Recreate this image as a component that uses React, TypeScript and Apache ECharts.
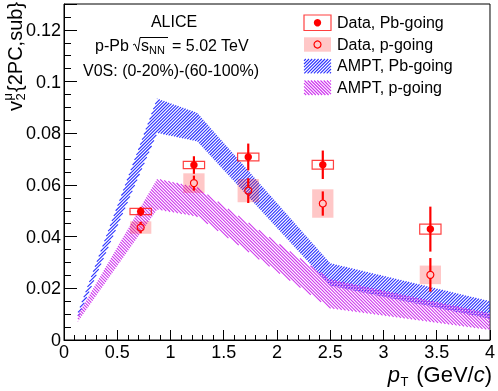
import React, { useEffect, useRef } from 'react';
import * as echarts from 'echarts';

// ---- data ----
const ptPoints = [0.72, 1.22, 1.73, 2.43, 3.44];
const pbGoingV2 = [0.0497, 0.0677, 0.0708, 0.0678, 0.0429];
const pbGoingStat = [0.0018, 0.0034, 0.0052, 0.0055, 0.0087];
const pbGoingSys = [0.0012, 0.0014, 0.0015, 0.0017, 0.0019];
const pGoingV2 = [0.0435, 0.0607, 0.0578, 0.0528, 0.0252];
const pGoingStat = [0.0022, 0.0029, 0.0048, 0.0047, 0.0065];
const pGoingSys = [0.0024, 0.0038, 0.0045, 0.0055, 0.0036];
const sysHalfWidth = [0.1, 0.1, 0.1, 0.1, 0.1];

const amptPt = [0.13, 0.875, 1.25, 2.5, 4.0];
const amptPbLow = [0.0085, 0.0801, 0.0769, 0.021, 0.0082];
const amptPbHigh = [0.0105, 0.0934, 0.0879, 0.0297, 0.015];
const amptPLow = [0.0071, 0.0505, 0.0478, 0.0123, 0.0039];
const amptPHigh = [0.0097, 0.0624, 0.059, 0.0235, 0.0103];

const xTicks = [0, 0.5, 1, 1.5, 2, 2.5, 3, 3.5, 4];
const yTickLabels = ['0', '0.02', '0.04', '0.06', '0.08', '0.1', '0.12'];

const FONT = 'Liberation Sans, Arial, Helvetica, sans-serif';
const RED = '#ff0000';
const PINK_BOX = 'rgba(255,0,0,0.22)';
const BLUE_HATCH = '#2a30ff';
const PINK_HATCH = '#cf36ee';
const HATCH_STEP = 3.2;
const HATCH_WIDTH = 1.1;

// Hatch line segments clipped to a (possibly non-convex) polygon, in pixels.
function hatchPolygon(pts: number[][], forward: boolean, step: number, color: string) {
  const f = (p: number[]) => (forward ? p[0] + p[1] : p[0] - p[1]);
  const vals = pts.map(f);
  const cMin = Math.ceil(Math.min(...vals) / step) * step;
  const cMax = Math.max(...vals);
  const out: any[] = [];
  for (let c = cMin; c <= cMax; c += step) {
    const xs: number[] = [];
    for (let k = 0; k < pts.length; k++) {
      const p = pts[k], q = pts[(k + 1) % pts.length];
      const fp = f(p) - c, fq = f(q) - c;
      if ((fp < 0 && fq >= 0) || (fp >= 0 && fq < 0)) {
        const t = fp / (fp - fq);
        xs.push(p[0] + t * (q[0] - p[0]));
      }
    }
    xs.sort((a, b) => a - b);
    for (let k = 0; k + 1 < xs.length; k += 2) {
      const xa = xs[k], xb = xs[k + 1];
      const ya = forward ? c - xa : xa - c;
      const yb = forward ? c - xb : xb - c;
      out.push({ type: 'line', silent: true, shape: { x1: xa, y1: ya, x2: xb, y2: yb }, style: { stroke: color, lineWidth: HATCH_WIDTH } });
    }
  }
  return out;
}

function rectPts(x: number, y: number, w: number, h: number) {
  return [[x, y], [x + w, y], [x + w, y + h], [x, y + h]];
}

export default function App() {
  const ref = useRef<HTMLDivElement>(null);
  useEffect(() => {
    if (!ref.current) return;
    const chart = echarts.init(ref.current, null, { renderer: 'svg' });

    const bandSeries = (low: number[], high: number[], forward: boolean, color: string) => ({
      type: 'custom',
      silent: true,
      clip: true,
      z: 1,
      data: amptPt.map((x, i) => [x, low[i], high[i]]),
      renderItem: (params: any, api: any) => {
        if (params.dataIndex !== 0) return;
        const top = amptPt.map((x, i) => api.coord([x, high[i]]));
        const bot = amptPt.map((x, i) => api.coord([x, low[i]])).reverse();
        return { type: 'group', children: hatchPolygon([...top, ...bot], forward, HATCH_STEP, color) };
      },
    });

    const boxSeries = (vals: number[], sys: number[], filled: boolean) => ({
      type: 'custom',
      silent: true,
      z: 2,
      data: ptPoints.map((x, i) => [x, vals[i], sys[i], sysHalfWidth[i]]),
      renderItem: (params: any, api: any) => {
        const x = api.value(0), v = api.value(1), s = api.value(2), w = api.value(3);
        const p1 = api.coord([x - w, v + s]);
        const p2 = api.coord([x + w, v - s]);
        return {
          type: 'rect',
          shape: { x: p1[0], y: p1[1], width: p2[0] - p1[0], height: p2[1] - p1[1] },
          style: filled
            ? { fill: PINK_BOX, stroke: null }
            : { fill: null, stroke: 'rgba(255,0,0,0.75)', lineWidth: 1.2 },
        };
      },
    });

    const errSeries = (vals: number[], stat: number[], gap: number) => ({
      type: 'custom',
      silent: true,
      z: 3,
      data: ptPoints.map((x, i) => [x, vals[i], stat[i]]),
      renderItem: (params: any, api: any) => {
        const x = api.value(0), v = api.value(1), e = api.value(2);
        const top = api.coord([x, v + e]);
        const mid = api.coord([x, v]);
        const bot = api.coord([x, v - e]);
        const st = { stroke: RED, lineWidth: 2.2 };
        return {
          type: 'group',
          children: [
            { type: 'line', shape: { x1: top[0], y1: top[1], x2: mid[0], y2: mid[1] - gap }, style: st },
            { type: 'line', shape: { x1: bot[0], y1: bot[1], x2: mid[0], y2: mid[1] + gap }, style: st },
          ],
        };
      },
    });

    const option: any = {
      animation: false,
      textStyle: { fontFamily: FONT },
      grid: { left: 64, right: 6, top: 4, bottom: 51, show: true, borderColor: '#000', borderWidth: 1, backgroundColor: 'transparent' },
      xAxis: {
        type: 'value',
        min: xTicks[0],
        max: xTicks[xTicks.length - 1],
        interval: 0.5,
        axisLine: { lineStyle: { color: '#000', width: 1 } },
        axisTick: { inside: true, length: 10, lineStyle: { color: '#000' } },
        minorTick: { show: true, splitNumber: 5, length: 5, lineStyle: { color: '#000' } },
        splitLine: { show: false },
        axisLabel: { color: '#000', fontSize: 18, fontFamily: FONT, margin: 3, formatter: (v: number) => String(v) },
      },
      yAxis: [
        {
          type: 'value',
          min: 0,
          max: 0.13,
          interval: 0.02,
          axisLine: { lineStyle: { color: '#000', width: 1 } },
          axisTick: { inside: true, length: 13, lineStyle: { color: '#000' } },
          splitLine: { show: false },
          axisLabel: {
            color: '#000', fontSize: 18, fontFamily: FONT, margin: 3,
            formatter: (v: number) => {
              const k = Math.round(v / 0.02);
              if (Math.abs(v - k * 0.02) > 1e-9) return '';
              return yTickLabels[k] ?? '';
            },
          },
        },
        {
          type: 'value',
          min: 0,
          max: 0.13,
          interval: 0.005,
          position: 'left',
          axisLine: { show: false },
          axisTick: { inside: true, length: 7, lineStyle: { color: '#000' } },
          axisLabel: { show: false },
          splitLine: { show: false },
        },
      ],
      series: [
        bandSeries(amptPbLow, amptPbHigh, true, BLUE_HATCH),
        bandSeries(amptPLow, amptPHigh, false, PINK_HATCH),
        boxSeries(pGoingV2, pGoingSys, true),
        boxSeries(pbGoingV2, pbGoingSys, false),
        errSeries(pbGoingV2, pbGoingStat, 0),
        errSeries(pGoingV2, pGoingStat, 3.6),
        {
          type: 'scatter',
          z: 4,
          silent: true,
          symbol: 'circle',
          symbolSize: 7.5,
          itemStyle: { color: RED, opacity: 1 },
          data: ptPoints.map((x, i) => [x, pbGoingV2[i]]),
        },
        {
          type: 'scatter',
          z: 4,
          silent: true,
          symbol: 'circle',
          symbolSize: 7,
          itemStyle: { color: 'rgba(0,0,0,0)', borderColor: RED, borderWidth: 1.2, opacity: 1 },
          data: ptPoints.map((x, i) => [x, pGoingV2[i]]),
        },
      ],
      graphic: [
        // legend
        { type: 'rect', shape: { x: 304, y: 15, width: 27, height: 15.5 }, style: { fill: null, stroke: 'rgba(255,0,0,0.75)', lineWidth: 1.2 } },
        { type: 'circle', shape: { cx: 317.5, cy: 22.7, r: 3.7 }, style: { fill: RED } },
        { type: 'rect', shape: { x: 304, y: 37.3, width: 27, height: 14.4 }, style: { fill: PINK_BOX } },
        { type: 'circle', shape: { cx: 317.5, cy: 44.5, r: 3.5 }, style: { fill: null, stroke: RED, lineWidth: 1.2 } },
        { type: 'group', children: hatchPolygon(rectPts(304, 59, 27, 14.3), true, HATCH_STEP, BLUE_HATCH) },
        { type: 'group', children: hatchPolygon(rectPts(304, 80.5, 27, 14.5), false, HATCH_STEP, PINK_HATCH) },
        { type: 'text', x: 337, y: 22.7, style: { text: 'Data, Pb-going', font: `16px ${FONT}`, fill: '#000', textVerticalAlign: 'middle' } },
        { type: 'text', x: 337, y: 44.3, style: { text: 'Data, p-going', font: `16px ${FONT}`, fill: '#000', textVerticalAlign: 'middle' } },
        { type: 'text', x: 337, y: 65.7, style: { text: 'AMPT, Pb-going', font: `16px ${FONT}`, fill: '#000', textVerticalAlign: 'middle' } },
        { type: 'text', x: 337, y: 87, style: { text: 'AMPT, p-going', font: `16px ${FONT}`, fill: '#000', textVerticalAlign: 'middle' } },
        // annotations
        { type: 'text', x: 174, y: 21.7, style: { text: 'ALICE', font: `16px ${FONT}`, fill: '#000', textAlign: 'center', textVerticalAlign: 'middle' } },
        { type: 'text', x: 95, y: 45, style: { text: 'p-Pb', font: `16px ${FONT}`, fill: '#000', textVerticalAlign: 'middle' } },
        { type: 'polyline', shape: { points: [[133, 45], [134.8, 44], [138, 51], [140, 37.5], [168, 37.5]] }, style: { stroke: '#000', lineWidth: 1, fill: null } },
        { type: 'text', x: 141, y: 45, style: { text: 's', font: `16px ${FONT}`, fill: '#000', textVerticalAlign: 'middle' } },
        { type: 'text', x: 149, y: 50, style: { text: 'NN', font: `11px ${FONT}`, fill: '#000', textVerticalAlign: 'middle' } },
        { type: 'text', x: 172, y: 45, style: { text: '= 5.02 TeV', font: `16px ${FONT}`, fill: '#000', textVerticalAlign: 'middle' } },
        { type: 'text', x: 83, y: 70, style: { text: 'V0S: (0-20%)-(60-100%)', font: `16px ${FONT}`, fill: '#000', textVerticalAlign: 'middle' } },
        // y-axis title (rotated)
        {
          type: 'group', x: 15, y: 111, rotation: Math.PI / 2,
          children: [
            { type: 'text', x: 0, y: 0, style: { text: 'v', font: `20px ${FONT}`, fill: '#000', textVerticalAlign: 'middle' } },
            { type: 'text', x: 10.5, y: 5.5, style: { text: '2', font: `13px ${FONT}`, fill: '#000', textVerticalAlign: 'middle' } },
            { type: 'text', x: 10.5, y: -7.5, style: { text: 'μ', font: `13px ${FONT}`, fill: '#000', textVerticalAlign: 'middle' } },
            { type: 'text', x: 19, y: 0, style: { text: '{2PC,sub}', font: `20px ${FONT}`, fill: '#000', textVerticalAlign: 'middle' } },
          ],
        },
        // x-axis title
        { type: 'text', x: 400, y: 374, style: { text: 'p', font: `italic 22px ${FONT}`, fill: '#000', textAlign: 'right', textVerticalAlign: 'middle' } },
        { type: 'text', x: 400.5, y: 381, style: { text: 'T', font: `13px ${FONT}`, fill: '#000', textVerticalAlign: 'middle' } },
        {
          type: 'text', x: 492, y: 374,
          style: {
            text: '(GeV/{i|c})', font: `22px ${FONT}`, fill: '#000', textAlign: 'right', textVerticalAlign: 'middle',
            rich: { i: { fontStyle: 'italic', fontSize: 22, fontFamily: FONT, fill: '#000' } },
          },
        },
      ],
    };
    chart.setOption(option);
    return () => chart.dispose();
  }, []);
  return <div ref={ref} style={{ position: 'fixed', left: 0, top: 0, width: 498, height: 391 }} />;
}
